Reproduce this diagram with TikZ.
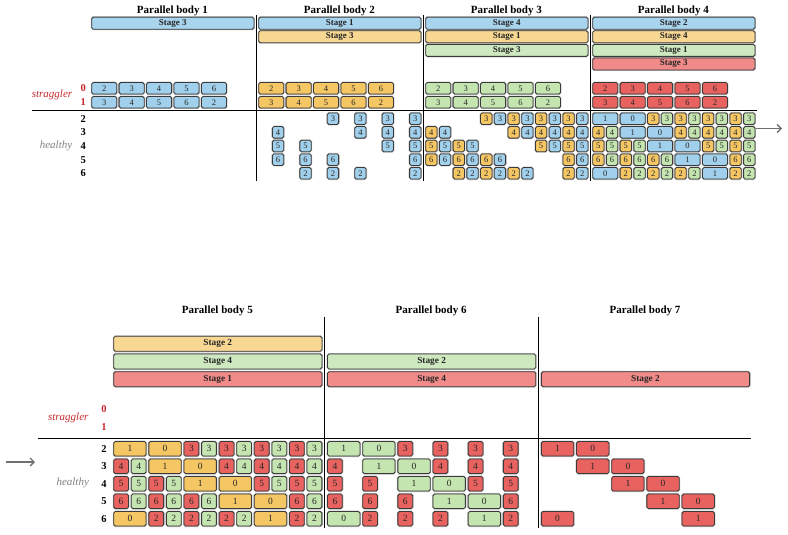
\documentclass[tikz,border=0pt]{standalone}
\usepackage{fontspec}
\setmainfont{Liberation Serif}
\usetikzlibrary{arrows.meta}
\definecolor{cb}{HTML}{A0D0EC}
\definecolor{cbs}{HTML}{A8D4EE}
\definecolor{co}{HTML}{F5C664}
\definecolor{cos}{HTML}{F8D792}
\definecolor{cg}{HTML}{C4E5B0}
\definecolor{cgs}{HTML}{CEE8C0}
\definecolor{cr}{HTML}{E8625F}
\definecolor{crs}{HTML}{F08B8A}
\definecolor{edgec}{HTML}{3A3A3A}
\definecolor{arrc}{HTML}{707070}
\definecolor{hlc}{HTML}{808080}
\definecolor{stc}{HTML}{C8282D}
\tikzset{
  cell/.style={draw=edgec, line width=0.8pt, rounded corners=1.6pt, inner sep=0pt,
    anchor=west, text=black!85, preaction={draw=black!28, line width=1.9pt}},
  tnum/.style={font=\fontsize{8.5}{9}\selectfont},
  bnum/.style={font=\fontsize{9.5}{10}\selectfont},
  tstg/.style={font=\fontsize{9}{10}\selectfont\bfseries},
  bstg/.style={font=\fontsize{9.3}{10}\selectfont\bfseries},
  ttl/.style={font=\fontsize{11}{12}\selectfont\bfseries, inner sep=0pt},
  rlab/.style={font=\fontsize{10.5}{11}\selectfont\bfseries, inner sep=0pt},
  slab/.style={font=\fontsize{11}{12}\selectfont\itshape, text=stc, inner sep=0pt},
  hlab/.style={font=\fontsize{11}{12}\selectfont\itshape, text=hlc, inner sep=0pt},
  sep/.style={line width=1.1pt, black},
  flow/.style={draw=arrc, line width=1.4pt, -{Straight Barb[length=4pt,width=8pt]}}
}
% top half cells
\newcommand\tcell[6]{%
  \pgfmathsetmacro\tcX{91.3+167*(#1-1)+13.72*#3}%
  \pgfmathsetmacro\tcW{13.72*#4-2.4}%
  \pgfmathsetmacro\tcY{ifthenelse(#2==0,88.3,ifthenelse(#2==1,102.3,118.7+13.65*(#2-2)))}%
  \node[cell,fill=#5,tnum,minimum width=\tcW pt,minimum height=11.5pt] (t#1-#2-#3) at (\tcX,\tcY) {#6};}
\newcommand\talt[6]{%
  \foreach \tcc in {#3}{\ifodd\tcc\relax\tcell{#1}{#2}{\tcc}{1}{#6}{#4}\else\tcell{#1}{#2}{\tcc}{1}{#5}{#4}\fi}}
\newcommand\tstage[4]{%
  \pgfmathsetmacro\tcX{91.3+167*(#1-1)}%
  \pgfmathsetmacro\tcY{23.2+13.6*(#2-1)}%
  \node[cell,fill=#3,tstg,minimum width=162.2pt,minimum height=12pt] (ts#1-#2) at (\tcX,\tcY) {#4};}
% bottom half cells
\newcommand\bcell[6]{%
  \pgfmathsetmacro\tcX{113.3+213.85*(#1-5)+17.58*#3}%
  \pgfmathsetmacro\tcW{17.58*#4-2.8}%
  \pgfmathsetmacro\tcY{448.8+17.5*(#2-2)}%
  \node[cell,fill=#5,bnum,minimum width=\tcW pt,minimum height=14.5pt] (b#1-#2-#3) at (\tcX,\tcY) {#6};}
\newcommand\balt[6]{%
  \foreach \tcc in {#3}{\ifodd\tcc\relax\bcell{#1}{#2}{\tcc}{1}{#6}{#4}\else\bcell{#1}{#2}{\tcc}{1}{#5}{#4}\fi}}
\newcommand\bstage[4]{%
  \pgfmathsetmacro\tcX{113.3+213.85*(#1-5)}%
  \pgfmathsetmacro\tcY{326.1+17.7*#2}%
  \node[cell,fill=#3,bstg,minimum width=208.2pt,minimum height=15pt] (bs#1-#2) at (\tcX,\tcY) {#4};}
\begin{document}
\begin{tikzpicture}[x=1pt,y=-1pt]
\useasboundingbox (0,0) rectangle (788,535);
% ================= TOP =================
\foreach \b in {1,2,3,4}{
  \pgfmathsetmacro\tcX{91.3+167*(\b-1)+81.1}
  \node[ttl] (tt\b) at (\tcX,10.5) {Parallel body \b};
}
\tstage{1}{1}{cbs}{Stage 3}
\tstage{2}{1}{cbs}{Stage 1}\tstage{2}{2}{cos}{Stage 3}
\tstage{3}{1}{cbs}{Stage 4}\tstage{3}{2}{cos}{Stage 1}\tstage{3}{3}{cgs}{Stage 3}
\tstage{4}{1}{cbs}{Stage 2}\tstage{4}{2}{cos}{Stage 4}\tstage{4}{3}{cgs}{Stage 1}\tstage{4}{4}{crs}{Stage 3}
% straggler rows
\foreach \b/\s in {1/cb,2/co,3/cg,4/cr}{
  \foreach \c/\ta/\tb in {0/2/3,2/3/4,4/4/5,6/5/6,8/6/2}{
    \tcell{\b}{0}{\c}{2}{\s}{\ta}
    \tcell{\b}{1}{\c}{2}{\s}{\tb}
  }
}
% body 2 healthy
\foreach \r/\t/\cl in {2/3/{5,7,9,11},3/4/{1,7,9,11},4/5/{1,3,9,11},5/6/{1,3,5,11},6/2/{3,5,7,11}}{
  \foreach \c in \cl {\tcell{2}{\r}{\c}{1}{cb}{\t}}
}
% body 3 healthy
\talt{3}{2}{4,5,6,7,8,9,10,11}{3}{co}{cb}
\talt{3}{3}{0,1,6,7,8,9,10,11}{4}{co}{cb}
\talt{3}{4}{0,1,2,3,8,9,10,11}{5}{co}{cb}
\talt{3}{5}{0,1,2,3,4,5,10,11}{6}{co}{cb}
\talt{3}{6}{2,3,4,5,6,7,10,11}{2}{co}{cb}
% body 4 healthy
\talt{4}{2}{4,5,6,7,8,9,10,11}{3}{co}{cg}
\talt{4}{3}{0,1,6,7,8,9,10,11}{4}{co}{cg}
\talt{4}{4}{0,1,2,3,8,9,10,11}{5}{co}{cg}
\talt{4}{5}{0,1,2,3,4,5,10,11}{6}{co}{cg}
\talt{4}{6}{2,3,4,5,6,7,10,11}{2}{co}{cg}
\tcell{4}{2}{0}{2}{cb}{1}\tcell{4}{2}{2}{2}{cb}{0}
\tcell{4}{3}{2}{2}{cb}{1}\tcell{4}{3}{4}{2}{cb}{0}
\tcell{4}{4}{4}{2}{cb}{1}\tcell{4}{4}{6}{2}{cb}{0}
\tcell{4}{5}{6}{2}{cb}{1}\tcell{4}{5}{8}{2}{cb}{0}
\tcell{4}{6}{0}{2}{cb}{0}\tcell{4}{6}{8}{2}{cb}{1}
% labels top
\node[rlab,text=stc] (tl0) at (83.3,88.3) {0};
\node[rlab,text=stc] (tl1) at (83.3,102.3) {1};
\foreach \r in {2,...,6}{
  \pgfmathsetmacro\tcY{118.7+13.65*(\r-2)}
  \node[rlab] (tl\r) at (83.3,\tcY) {\r};
}
\node[slab] (tstrag) at (52,95) {straggler};
\node[hlab] (thealthy) at (56,145.7) {healthy};
% lines top
\coordinate (th0) at (32,110.7); \coordinate (th1) at (757,110.7);
\draw[sep] (th0) -- (th1);
\foreach \x [count=\i] in {256.3,423.3,590.2}{
  \coordinate (tv\i a) at (\x,15); \coordinate (tv\i b) at (\x,181);
  \draw[sep] (tv\i a) -- (tv\i b);
}
\coordinate (ta0) at (756,128.5); \coordinate (ta1) at (782,128.5);
\draw[flow] (ta0) -- (ta1);
% ================= BOTTOM =================
\foreach \b in {5,6,7}{
  \pgfmathsetmacro\tcX{113.3+213.85*(\b-5)+104}
  \node[ttl] (bt\b) at (\tcX,310.7) {Parallel body \b};
}
\bstage{5}{1}{cos}{Stage 2}\bstage{5}{2}{cgs}{Stage 4}\bstage{5}{3}{crs}{Stage 1}
\bstage{6}{2}{cgs}{Stage 2}\bstage{6}{3}{crs}{Stage 4}
\bstage{7}{3}{crs}{Stage 2}
% body 5
\balt{5}{2}{4,5,6,7,8,9,10,11}{3}{cr}{cg}
\balt{5}{3}{0,1,6,7,8,9,10,11}{4}{cr}{cg}
\balt{5}{4}{0,1,2,3,8,9,10,11}{5}{cr}{cg}
\balt{5}{5}{0,1,2,3,4,5,10,11}{6}{cr}{cg}
\balt{5}{6}{2,3,4,5,6,7,10,11}{2}{cr}{cg}
\bcell{5}{2}{0}{2}{co}{1}\bcell{5}{2}{2}{2}{co}{0}
\bcell{5}{3}{2}{2}{co}{1}\bcell{5}{3}{4}{2}{co}{0}
\bcell{5}{4}{4}{2}{co}{1}\bcell{5}{4}{6}{2}{co}{0}
\bcell{5}{5}{6}{2}{co}{1}\bcell{5}{5}{8}{2}{co}{0}
\bcell{5}{6}{0}{2}{co}{0}\bcell{5}{6}{8}{2}{co}{1}
% body 6
\foreach \r/\t/\cl in {2/3/{4,6,8,10},3/4/{0,6,8,10},4/5/{0,2,8,10},5/6/{0,2,4,10},6/2/{2,4,6,10}}{
  \foreach \c in \cl {\bcell{6}{\r}{\c}{1}{cr}{\t}}
}
\bcell{6}{2}{0}{2}{cg}{1}\bcell{6}{2}{2}{2}{cg}{0}
\bcell{6}{3}{2}{2}{cg}{1}\bcell{6}{3}{4}{2}{cg}{0}
\bcell{6}{4}{4}{2}{cg}{1}\bcell{6}{4}{6}{2}{cg}{0}
\bcell{6}{5}{6}{2}{cg}{1}\bcell{6}{5}{8}{2}{cg}{0}
\bcell{6}{6}{0}{2}{cg}{0}\bcell{6}{6}{8}{2}{cg}{1}
% body 7
\bcell{7}{2}{0}{2}{cr}{1}\bcell{7}{2}{2}{2}{cr}{0}
\bcell{7}{3}{2}{2}{cr}{1}\bcell{7}{3}{4}{2}{cr}{0}
\bcell{7}{4}{4}{2}{cr}{1}\bcell{7}{4}{6}{2}{cr}{0}
\bcell{7}{5}{6}{2}{cr}{1}\bcell{7}{5}{8}{2}{cr}{0}
\bcell{7}{6}{0}{2}{cr}{0}\bcell{7}{6}{8}{2}{cr}{1}
% labels bottom
\node[rlab,text=stc] (bl0) at (104,409.3) {0};
\node[rlab,text=stc] (bl1) at (104,427) {1};
\foreach \r in {2,...,6}{
  \pgfmathsetmacro\tcY{448.8+17.5*(\r-2)}
  \node[rlab] (bl\r) at (104,\tcY) {\r};
}
\node[slab] (bstrag) at (68.3,418.3) {straggler};
\node[hlab] (bhealthy) at (72.7,483.3) {healthy};
% lines bottom
\coordinate (bh0) at (38.3,438.5); \coordinate (bh1) at (751,438.5);
\draw[sep] (bh0) -- (bh1);
\foreach \x [count=\i] in {324.5,538.5}{
  \coordinate (bv\i a) at (\x,316.7); \coordinate (bv\i b) at (\x,528.3);
  \draw[sep] (bv\i a) -- (bv\i b);
}
\coordinate (ba0) at (6,462); \coordinate (ba1) at (35,462);
\draw[flow] (ba0) -- (ba1);
\end{tikzpicture}
\end{document}
